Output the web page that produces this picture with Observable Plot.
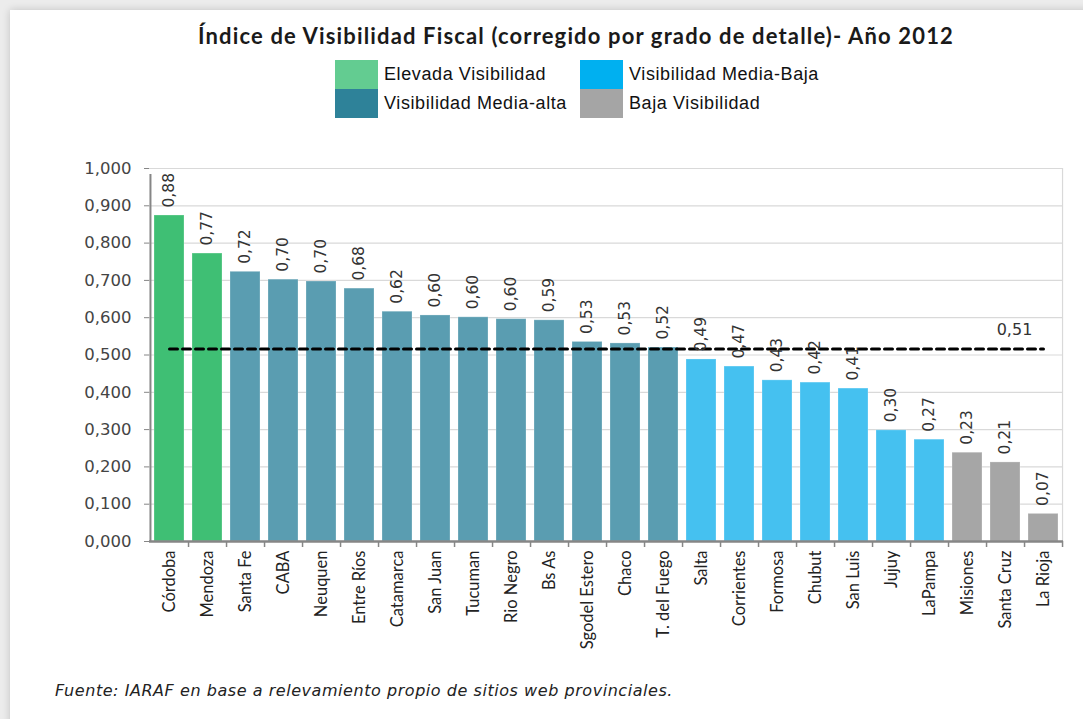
<!DOCTYPE html>
<html><head><meta charset="utf-8">
<script src="https://cdn.jsdelivr.net/npm/d3@7"></script>
<script src="https://cdn.jsdelivr.net/npm/@observablehq/plot@0.6"></script>
<style>
html,body{margin:0;padding:0;}
body{width:1083px;height:719px;overflow:hidden;position:relative;background:#ececec;}
#card{position:absolute;left:10px;top:10px;width:1090px;height:720px;background:#fff;box-shadow:0 0 8px rgba(0,0,0,0.18);}
#title{position:absolute;left:198px;top:22px;font-family:Lato,sans-serif;font-weight:700;font-size:22px;letter-spacing:1.15px;color:#1a1a1a;white-space:nowrap;}
.lg{position:absolute;font-family:"Liberation Sans",Arial,sans-serif;font-size:18px;letter-spacing:0.6px;color:#111;white-space:nowrap;}
.sw{position:absolute;width:43px;height:29px;}
#chart{position:absolute;left:0;top:140px;}
#caption{position:absolute;left:55px;top:681px;font-family:"DejaVu Sans",sans-serif;font-style:italic;font-size:16px;letter-spacing:0.55px;color:#222;white-space:nowrap;}
</style></head><body>
<div id="card"></div>
<div id="title"></div>
<div id="legend"></div>
<div id="chart"></div>
<div id="caption"></div>
<script>
const titleText = "Índice de Visibilidad Fiscal (corregido por grado de detalle)- Año 2012";
const captionText = "Fuente: IARAF en base a relevamiento propio de sitios web provinciales.";

const provinces = ["Córdoba","Mendoza","Santa Fe","CABA","Neuquen","Entre Ríos","Catamarca","San Juan","Tucuman","Rio Negro","Bs As","Sgodel Estero","Chaco","T. del Fuego","Salta","Corrientes","Formosa","Chubut","San Luis","Jujuy","LaPampa","Misiones","Santa Cruz","La Rioja"];
const values = [0.874,0.772,0.723,0.702,0.697,0.678,0.616,0.606,0.601,0.596,0.593,0.535,0.531,0.520,0.488,0.469,0.432,0.426,0.410,0.298,0.273,0.238,0.212,0.074];
const valueLabels = ["0,88","0,77","0,72","0,70","0,70","0,68","0,62","0,60","0,60","0,60","0,59","0,53","0,53","0,52","0,49","0,47","0,43","0,42","0,41","0,30","0,27","0,23","0,21","0,07"];
const groups = ["Elevada Visibilidad","Elevada Visibilidad",
  "Visibilidad Media-alta","Visibilidad Media-alta","Visibilidad Media-alta","Visibilidad Media-alta","Visibilidad Media-alta","Visibilidad Media-alta","Visibilidad Media-alta","Visibilidad Media-alta","Visibilidad Media-alta","Visibilidad Media-alta","Visibilidad Media-alta","Visibilidad Media-alta",
  "Visibilidad Media-Baja","Visibilidad Media-Baja","Visibilidad Media-Baja","Visibilidad Media-Baja","Visibilidad Media-Baja","Visibilidad Media-Baja","Visibilidad Media-Baja",
  "Baja Visibilidad","Baja Visibilidad","Baja Visibilidad"];
const groupNames = ["Elevada Visibilidad","Visibilidad Media-alta","Visibilidad Media-Baja","Baja Visibilidad"];
const barColors = ["#3fbf74","#5a9db1","#45c1f0","#a6a6a6"];
const legendColors = ["#63cc91","#2e8299","#00b0f0","#a5a5a5"];
const average = 0.516;
const averageLabel = "0,51";
const yTicks = [0,0.1,0.2,0.3,0.4,0.5,0.6,0.7,0.8,0.9,1.0];

document.getElementById("title").textContent = titleText;
document.getElementById("caption").textContent = captionText;

// legend (2 columns x 2 rows)
const legendPos = [[335,60],[335,89],[580,60],[580,89]];
const legendEl = document.getElementById("legend");
groupNames.forEach((g,i)=>{
  const [lx,ly] = legendPos[i];
  const s = document.createElement("div"); s.className="sw";
  s.style.left = lx+"px"; s.style.top = ly+"px"; s.style.background = legendColors[i];
  legendEl.appendChild(s);
  const t = document.createElement("div"); t.className="lg";
  t.style.left = (lx+49)+"px"; t.style.top = (ly+4)+"px"; t.textContent = g;
  legendEl.appendChild(t);
});

const data = provinces.map((p,i)=>({p, v: values[i], lab: valueLabels[i], g: groups[i]}));
const W = 1083, mL = 149, mR = 20;
const step = (W - mL - mR) / provinces.length;

const chart = Plot.plot({
  width: W, height: 531,
  marginLeft: mL, marginRight: mR, marginTop: 28, marginBottom: 130,
  style: {background: "transparent", overflow: "visible"},
  x: {domain: provinces, paddingInner: 0.22, paddingOuter: 0.11, label: null},
  y: {domain: [0, 1], label: null},
  color: {domain: groupNames, range: barColors},
  marks: [
    Plot.gridY(yTicks, {stroke: "#d9d9d9", strokeOpacity: 1, strokeWidth: 1.2}),
    Plot.ruleX([provinces[provinces.length-1]], {dx: step/2, y1: 0, y2: 1, stroke: "#d9d9d9", strokeWidth: 1.2}),
    Plot.barY(data, {x: "p", y: "v", fill: "g", stroke: "white", strokeOpacity: 0.25}),
    Plot.ruleX(provinces, {dx: step/2, y1: 0, y2: 0, insetBottom: -6, stroke: "#868686", strokeWidth: 1.5}),
    Plot.ruleX([provinces[0]], {dx: -step/2, y1: 0, y2: 1, insetBottom: -6, stroke: "#868686", strokeWidth: 2}),
    Plot.ruleY([0], {stroke: "#868686", strokeWidth: 2.5}),
    Plot.lineY([provinces[0], provinces[provinces.length-1]], {x: d => d, y: () => average, stroke: "black", strokeWidth: 3, strokeDasharray: "8,5"}),
    Plot.text(data, {x: "p", y: "v", text: "lab", rotate: -90, textAnchor: "start", dy: -8, fontSize: 15.5, fontFamily: "DejaVu Sans", fill: "#333"}),
    Plot.text([average], {x: () => "Santa Cruz", y: d => d, text: () => averageLabel, dx: 9, dy: -19, fontSize: 16, fontFamily: "DejaVu Sans", fill: "#333"}),
    Plot.axisY(yTicks, {tickSize: 5, tickPadding: 13, tickFormat: d => d.toFixed(3).replace(".", ","), fontSize: 16.5, fontFamily: "DejaVu Sans", fill: "#444", stroke: "#868686", label: null}),
    Plot.axisX({tickSize: 0, tickPadding: 9, tickRotate: -90, fontSize: 16.5, fontFamily: "Lato", fill: "#222", label: null})
  ]
});
document.getElementById("chart").appendChild(chart);
</script>
</body></html>
